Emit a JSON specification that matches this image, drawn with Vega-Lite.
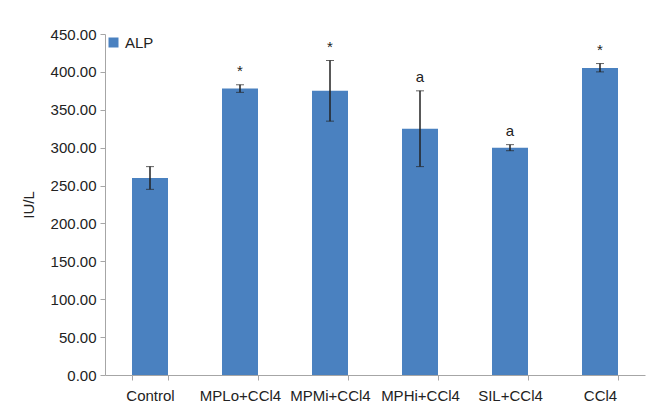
{
  "$schema": "https://vega.github.io/schema/vega-lite/v6.json",
  "width": 540,
  "height": 341,
  "autosize": {"type": "none"},
  "padding": {"left": 105, "top": 34, "right": 2, "bottom": 45},
  "background": "white",
  "config": {
    "view": {"stroke": null},
    "font": "Liberation Sans",
    "axis": {"labelFont": "Liberation Sans", "titleFont": "Liberation Sans", "labelColor": "#222", "titleColor": "#222", "domainColor": "#a6a6a6", "tickColor": "#a6a6a6", "grid": false, "labelFontSize": 15, "titleFontSize": 15, "titleFontWeight": "normal", "labelOverlap": false},
    "axisY": {"format": ".2f", "values": [0, 50, 100, 150, 200, 250, 300, 350, 400, 450], "tickSize": 5, "titlePadding": 14, "labelPadding": 4}
  },
  "data": {
    "values": [
      {"group": "Control", "series": "ALP", "mean": 260, "lo": 245, "hi": 275, "mark": ""},
      {"group": "MPLo+CCl4", "series": "ALP", "mean": 378, "lo": 373, "hi": 383, "mark": "*"},
      {"group": "MPMi+CCl4", "series": "ALP", "mean": 375, "lo": 335, "hi": 415, "mark": "*"},
      {"group": "MPHi+CCl4", "series": "ALP", "mean": 325, "lo": 275, "hi": 375, "mark": "a"},
      {"group": "SIL+CCl4", "series": "ALP", "mean": 300, "lo": 296, "hi": 304, "mark": "a"},
      {"group": "CCl4", "series": "ALP", "mean": 405, "lo": 400, "hi": 411, "mark": "*"}
    ]
  },
  "encoding": {
    "x": {
      "field": "group", "type": "nominal", "sort": null,
      "scale": {"paddingInner": 0.6, "paddingOuter": 0.3},
      "axis": {"title": null, "labelAngle": 0, "labelPadding": 8, "tickBand": "extent", "ticks": true, "tickSize": 5}
    }
  },
  "layer": [
    {
      "mark": {"type": "bar"},
      "encoding": {
        "y": {"field": "mean", "type": "quantitative", "scale": {"domain": [0, 450]}, "title": "IU/L"},
        "color": {"field": "series", "type": "nominal", "scale": {"range": ["#4a81c0"]},
          "legend": {"title": null, "orient": "top-left", "offset": 1, "symbolType": "square", "symbolSize": 100, "labelFontSize": 15, "labelFont": "Liberation Sans", "labelColor": "#222", "symbolStrokeWidth": 0, "padding": 0, "labelOffset": 4}}
      }
    },
    {
      "mark": {"type": "errorbar", "ticks": {"size": 8, "color": "#222"}, "rule": {"color": "#222", "strokeWidth": 1.5}, "color": "#222"},
      "encoding": {
        "y": {"field": "lo", "type": "quantitative", "title": "IU/L"},
        "y2": {"field": "hi"}
      }
    },
    {
      "mark": {"type": "text", "baseline": "bottom", "dy": -6, "fontSize": 15, "color": "#222"},
      "encoding": {
        "y": {"field": "hi", "type": "quantitative", "title": "IU/L"},
        "text": {"field": "mark"}
      }
    }
  ]
}
